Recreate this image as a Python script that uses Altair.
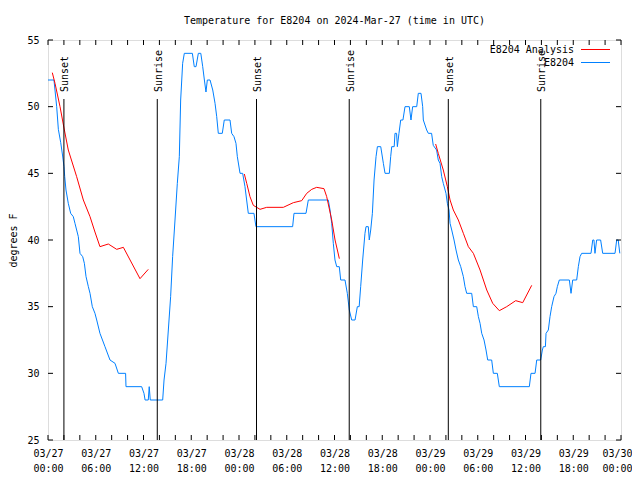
import altair as alt
import pandas as pd

# Observed temperatures E8204 (hours since 2024-03-27 00:00 UTC, deg F)
obs_hours = [0.0, 0.75, 1.09, 1.3, 1.6, 1.84, 2.01, 2.1, 2.26, 2.55, 2.85, 3.18, 3.39, 3.6, 3.81,
             4.02, 4.36, 4.57, 4.78, 5.07, 5.28, 5.57, 5.9, 6.12, 6.53, 7.16, 7.79, 8.42, 8.84,
             9.75, 9.8, 11.77, 12.06, 12.2, 12.6, 12.72, 12.85, 14.41, 14.58, 14.83, 15.12,
             15.41, 15.66, 15.96, 16.25, 16.5, 16.67, 16.92, 17.13, 18.14, 18.38, 18.6, 18.89,
             19.2, 19.44, 19.65, 19.85, 20.02, 20.36, 20.7, 20.99, 21.2, 21.4, 21.9, 22.15,
             22.87, 23.08, 23.37, 23.62, 23.79, 24.13, 24.46, 24.75, 25.17, 25.88, 26.13,
             30.74, 30.91, 32.42, 32.71, 35.22, 35.44, 35.65, 35.85, 36.06, 36.28, 36.6, 36.78,
             37.32, 37.61, 37.86, 38.16, 38.58, 38.87, 39.1, 39.29, 39.54, 39.83, 39.96, 40.25,
             40.37, 40.55, 40.76, 40.97, 41.22, 41.39, 41.81, 42.14, 42.35, 42.89, 43.06, 43.19,
             43.5, 43.6, 43.8, 43.9, 44.1, 44.32, 44.6, 44.86, 45.4, 45.61, 45.82, 46.33, 46.53,
             46.87, 47.08, 47.16, 47.58, 47.79, 48.2, 48.41, 48.83, 49.04, 49.26, 49.47, 49.67,
             50.01, 50.18, 50.39, 50.52, 50.73, 51.02, 51.27, 51.56, 51.86, 52.19, 52.4, 52.61,
             53.24, 53.45, 53.87, 54.08, 54.29, 54.5, 54.79, 55.04, 55.25, 55.75, 55.96, 56.46,
             56.71, 60.48, 60.69, 61.2, 61.41, 61.91, 62.12, 62.24, 62.5, 62.58, 62.87, 63.08,
             63.29, 63.58, 63.83, 64.0, 64.25, 65.51, 65.72, 65.93, 66.43, 66.64, 66.85, 67.06,
             68.23, 68.45, 68.6, 68.73, 68.94, 69.44, 69.7, 71.25, 71.46, 71.65, 71.85]
obs_temps = [52, 52, 50, 48.3, 47.3, 46.3, 45.5, 44.75, 43.75, 42.75, 42, 41.75, 41.25, 40.75, 40.25,
             39, 38.75, 38.25, 37.25, 36.5, 36, 35, 34.5, 34, 33, 32, 31, 30.75, 30,
             30, 29, 29, 28.5, 28, 28, 29, 28, 28, 29.5, 30.75, 33.25,
             35.75, 38.75, 41.5, 44.25, 46.25, 50.5, 53.25, 54, 54, 53, 53, 54,
             54, 53, 52, 51.1, 52, 52, 51.25, 50.25, 49.25, 48, 48, 49,
             49, 48, 47.75, 47.25, 46.25, 45, 45, 44, 42, 42, 41,
             41, 42, 42, 43, 43, 42.25, 41.25, 39.75, 38.5, 38, 38, 37,
             37, 36, 34.75, 34, 34, 35, 35, 36.5, 38.5, 40.5, 41, 41,
             40, 40.75, 42, 44.5, 46.25, 47, 47, 45.75, 45, 45, 46.25, 47,
             47, 48, 48, 47, 48, 49, 49, 50, 50, 49, 50, 50, 51,
             51, 50, 49, 48.25, 48, 48, 47.1, 46.75, 46, 45.75, 44.75, 44.25,
             43.5, 42.75, 42.25, 41.25, 40.75, 40, 39.25, 38.5, 38, 37.25, 36.5, 36,
             36, 35, 35, 34.25, 33.75, 33, 32.5, 31.75, 31, 31, 30, 30,
             29, 29, 30, 30, 31, 31, 31.75, 32, 32, 33, 33.25, 34.25,
             35, 35.75, 36, 36.5, 37, 37, 36, 37, 37, 38, 38.75, 39,
             39, 40, 40, 39, 40, 40, 39, 39, 40, 40, 39]

# Analysis (three separate runs)
ana_hours = [0.54, 0.88, 1.51, 2.01, 2.55, 3.6, 4.44, 5.28, 5.9, 6.53, 7.58, 8.63, 9.47, 11.56, 12.6,
             24.67, 24.97, 25.38, 25.8, 26.64, 27.48, 29.57, 30.83, 31.88, 32.51, 33.14, 33.76,
             34.68, 35.02, 35.65, 36.07, 36.61,
             48.71, 49.04, 49.67, 50.18, 50.52, 50.93, 51.56, 52.19, 52.82, 53.45, 54.29, 55.13,
             55.88, 56.71, 57.64, 58.77, 59.65, 60.78]
ana_temps = [52.55, 51.75, 50, 48.4, 46.75, 44.75, 43, 41.75, 40.6, 39.5, 39.7, 39.3, 39.45, 37.1, 37.8,
             44.95, 44.25, 43.25, 42.6, 42.3, 42.45, 42.45, 42.8, 42.95, 43.5, 43.8, 43.95,
             43.85, 43.25, 41.5, 40, 38.6,
             47.2, 46.5, 45.25, 44, 43, 42.25, 41.5, 40.5, 39.5, 39, 37.75, 36.25,
             35.25, 34.7, 35, 35.45, 35.3, 36.6]
ana_segment = [1] * 15 + [2] * 17 + [3] * 18

# Sunrise / sunset times
sun_hours = [2.0, 13.73, 26.2, 37.85, 50.3, 61.92]
sun_labels = ["Sunset", "Sunrise", "Sunset", "Sunrise", "Sunset", "Sunrise"]

x_tick_hours = list(range(0, 73, 2))
x_label_hours = list(range(0, 73, 6))
y_ticks = [25, 30, 35, 40, 45, 50, 55]

legend_labels = ["E8204 Analysis", "E8204"]
legend_colors = ["#ff0000", "#0080ff"]

W, H = 573, 400
FONT = "DejaVu Sans Mono"

obs = pd.DataFrame({"h": obs_hours, "t": obs_temps})
ana = pd.DataFrame({"h": ana_hours, "t": ana_temps, "seg": ana_segment})
sun = pd.DataFrame({"h": sun_hours, "label": sun_labels})
xt = pd.DataFrame({"h": x_tick_hours})
yt = pd.DataFrame({"t": y_ticks})

xscale = alt.Scale(domain=[0, 72], nice=False, zero=False)
yscale = alt.Scale(domain=[25, 55], nice=False, zero=False)

label_expr = ("['03/' + (27 + floor(datum.value / 24)), "
              "(datum.value % 24 < 10 ? '0' : '') + (datum.value % 24) + ':00']")

x_axis = alt.Axis(values=x_label_hours, labelExpr=label_expr, ticks=False, domain=False, grid=False,
                  labelFont=FONT, labelFontSize=10, labelColor="black", labelPadding=8,
                  labelBaseline="top", labelLineHeight=15, labelOverlap=False, labelFlush=False,
                  labelOffset={"condition": {"test": "datum.value == 72", "value": -4}, "value": 0},
                  title=None)
y_axis = alt.Axis(values=y_ticks, ticks=False, domain=False, grid=False,
                  labelFont=FONT, labelFontSize=10, labelColor="black", labelPadding=9,
                  labelOverlap=False, labelFlush=False,
                  title="degrees F", titleFont=FONT, titleFontSize=10, titleFontWeight="normal",
                  titleColor="black", titleAngle=270, titleX=-35, titleY=200,
                  titleAlign="center", titleBaseline="middle")

blue = alt.Chart(obs).mark_line(color="#0080ff", strokeWidth=1).encode(
    x=alt.X("h:Q", scale=xscale, axis=x_axis),
    y=alt.Y("t:Q", scale=yscale, axis=y_axis),
)
red = alt.Chart(ana).mark_line(color="#ff0000", strokeWidth=1).encode(
    x=alt.X("h:Q", scale=xscale),
    y=alt.Y("t:Q", scale=yscale),
    detail="seg:N",
)
sun_rules = alt.Chart(sun).mark_rule(color="black", strokeWidth=1).encode(
    x=alt.X("h:Q", scale=xscale), y=alt.value(59), y2=alt.value(H)
)
sun_text = alt.Chart(sun).mark_text(angle=270, align="left", baseline="middle", dy=1.5,
                                    font=FONT, fontSize=10, color="black").encode(
    x=alt.X("h:Q", scale=xscale), y=alt.value(52), text="label:N"
)
xt_bot = alt.Chart(xt).mark_rule(color="black").encode(
    x=alt.X("h:Q", scale=xscale), y=alt.value(H), y2=alt.value(H - 5))
xt_top = alt.Chart(xt).mark_rule(color="black").encode(
    x=alt.X("h:Q", scale=xscale), y=alt.value(0), y2=alt.value(5))
yt_left = alt.Chart(yt).mark_rule(color="black").encode(
    y=alt.Y("t:Q", scale=yscale), x=alt.value(0), x2=alt.value(5))
yt_right = alt.Chart(yt).mark_rule(color="black").encode(
    y=alt.Y("t:Q", scale=yscale), x=alt.value(W - 5), x2=alt.value(W))

legend_layers = []
for i, (lab, col) in enumerate(zip(legend_labels, legend_colors)):
    row_y = 9.5 + 13 * i
    d = pd.DataFrame({"label": [lab]})
    legend_layers.append(
        alt.Chart(d).mark_text(align="right", baseline="middle", font=FONT, fontSize=10,
                               color="black").encode(x=alt.value(526), y=alt.value(row_y),
                                                     text="label:N"))
    legend_layers.append(
        alt.Chart(d).mark_rule(strokeWidth=1, color=col).encode(
            x=alt.value(533), x2=alt.value(562), y=alt.value(row_y)))

chart = alt.layer(
    blue, red, sun_rules, sun_text, xt_bot, xt_top, yt_left, yt_right, *legend_layers
).properties(
    width=W, height=H,
    title=alt.TitleParams(text="Temperature for E8204 on 2024-Mar-27 (time in UTC)",
                          font=FONT, fontSize=10, fontWeight="normal", color="black",
                          anchor="middle", offset=9),
    autosize=alt.AutoSizeParams(type="none"),
    padding={"left": 40, "top": 32, "right": 11, "bottom": 32},
).configure_view(stroke="black", strokeWidth=1).configure(background="white")

chart.save("out.html", embed_options={"renderer": "svg", "actions": False})
